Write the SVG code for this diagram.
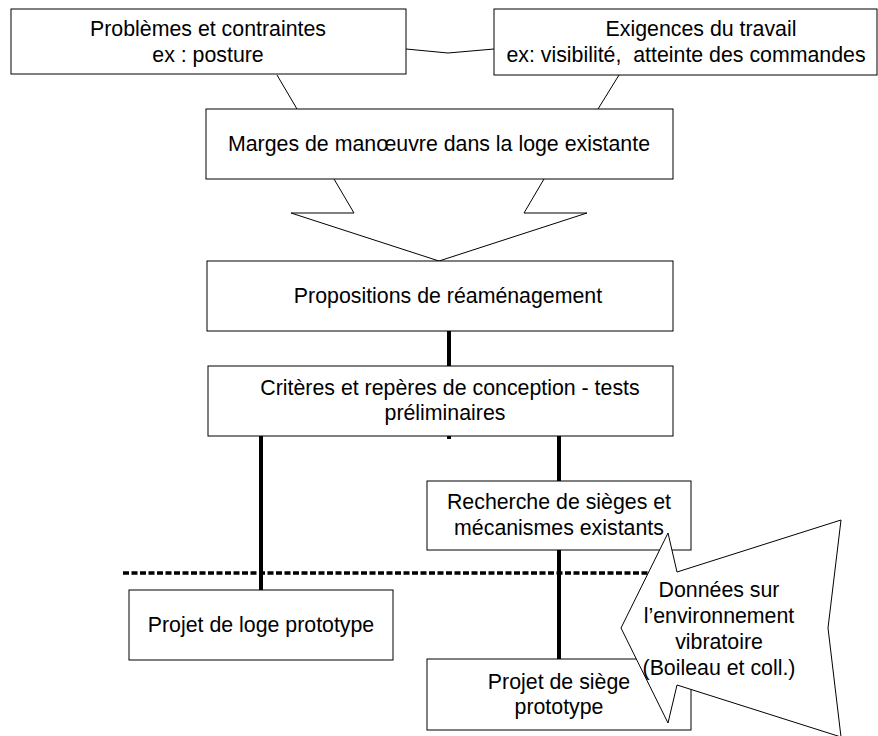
<svg xmlns="http://www.w3.org/2000/svg" width="878" height="736" viewBox="0 0 878 736">
<style>
.box{fill:#fff;stroke:#000;stroke-width:1}
.thin{fill:none;stroke:#000;stroke-width:1}
.thick{fill:none;stroke:#000;stroke-width:4}
.dot{fill:none;stroke:#000;stroke-width:3.5;stroke-dasharray:6 2.5}
text{font-family:"Liberation Sans",Arial,sans-serif;font-size:21.33px;fill:#000;text-anchor:middle;white-space:pre}
</style>
<rect width="878" height="736" fill="#fff"/>
<g id="connectors">
<polyline class="thin" points="406,49 448,53 494,49"/>
<line class="thin" x1="277" y1="75" x2="297" y2="109"/>
<line class="thin" x1="619" y1="75" x2="598" y2="109"/>
<line class="thick" x1="449" y1="331" x2="449" y2="366"/>
<line class="thick" x1="449" y1="436" x2="449" y2="439"/>
<line class="thick" x1="261" y1="436" x2="261" y2="590"/>
<line class="thick" x1="559" y1="436" x2="559" y2="481"/>
<line class="thick" x1="559" y1="550" x2="559" y2="660"/>
<line class="dot" x1="123" y1="573" x2="660" y2="573"/>
</g>
<g id="n-problemes">
<rect class="box" x="11" y="9" width="395" height="65"/>
<text x="208" y="36">Problèmes et contraintes</text>
<text x="208" y="62">ex : posture</text>
</g>
<g id="n-exigences">
<rect class="box" x="494" y="9" width="383" height="66"/>
<text x="701" y="36">Exigences du travail</text>
<text x="686" y="62" xml:space="preserve">ex: visibilité,  atteinte des commandes</text>
</g>
<g id="n-marges">
<rect class="box" x="206" y="109" width="467" height="70"/>
<polyline class="thin" points="334,179 354,213 291,213 439,261 587,213 524,213 544,179"/>
<text x="439" y="151">Marges de manœuvre dans la loge existante</text>
</g>
<g id="n-propositions">
<rect class="box" x="207" y="261" width="466" height="70"/>
<text x="448" y="303">Propositions de réaménagement</text>
</g>
<g id="n-criteres">
<rect class="box" x="208" y="366" width="465" height="70"/>
<text x="450" y="395">Critères et repères de conception - tests</text>
<text x="445" y="420">préliminaires</text>
</g>
<g id="n-recherche">
<rect class="box" x="427" y="481" width="264" height="69"/>
<text x="559" y="509">Recherche de sièges et</text>
<text x="559" y="535">mécanismes existants</text>
</g>
<g id="n-loge">
<rect class="box" x="129" y="590" width="264" height="70"/>
<text x="261" y="632">Projet de loge prototype</text>
</g>
<g id="n-siege">
<rect class="box" x="427" y="659" width="264" height="71"/>
<text x="559" y="689">Projet de siège</text>
<text x="559" y="714">prototype</text>
</g>
<g id="n-donnees">
<polygon class="box" points="621,628 668,533 677,572 841,520 828,628 841,737 677,685 668,723"/>
<text x="719" y="597">Données sur</text>
<text x="719" y="623">l’environnement</text>
<text x="719" y="649">vibratoire</text>
<text x="719" y="675">(Boileau et coll.)</text>
</g>
</svg>
